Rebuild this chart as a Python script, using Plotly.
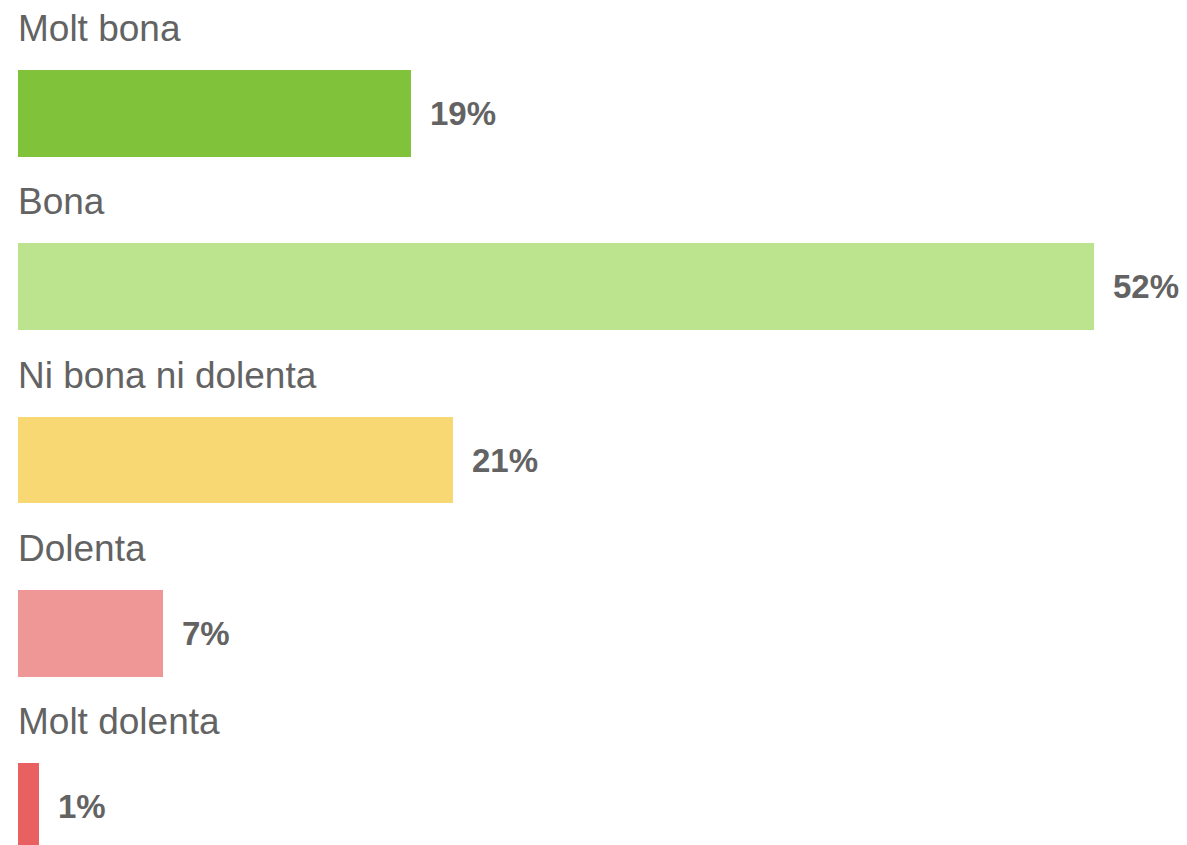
import plotly.graph_objects as go

# Survey rating categories, shares (%) and bar colours
categories = ["Molt bona", "Bona", "Ni bona ni dolenta", "Dolenta", "Molt dolenta"]
shares = [19, 52, 21, 7, 1]
colors = ["#80C33B", "#BCE38E", "#F8D873", "#EF9696", "#E96060"]

positions = list(range(len(categories)))
text_color = "#636363"
font_family = "Liberation Sans, Arial, sans-serif"

fig = go.Figure(
    go.Bar(
        x=shares,
        y=positions,
        orientation="h",
        width=0.5,
        marker=dict(color=colors, line=dict(width=0)),
        hoverinfo="skip",
    )
)

annotations = []
for pos, cat, val in zip(positions, categories, shares):
    # category name sitting above its bar
    annotations.append(dict(
        x=0, y=pos - 0.25, xref="x", yref="y",
        text=cat, showarrow=False,
        xanchor="left", yanchor="bottom", xshift=-2, yshift=19,
        font=dict(family=font_family, size=37, color=text_color),
    ))
    # value label to the right of the bar
    annotations.append(dict(
        x=val, y=pos, xref="x", yref="y",
        text=f"<b>{val}%</b>", showarrow=False,
        xanchor="left", yanchor="middle", xshift=17,
        font=dict(family=font_family, size=33, color=text_color),
    ))

fig.update_layout(
    width=1187, height=845,
    margin=dict(l=18, r=0, t=0, b=0),
    paper_bgcolor="white", plot_bgcolor="white",
    showlegend=False,
    bargap=0,
    xaxis=dict(range=[0, 56.5], visible=False, fixedrange=True),
    yaxis=dict(range=[4.221, -0.655], visible=False, fixedrange=True),
    annotations=annotations,
)

fig.write_html("out.html", config={"displayModeBar": False})
